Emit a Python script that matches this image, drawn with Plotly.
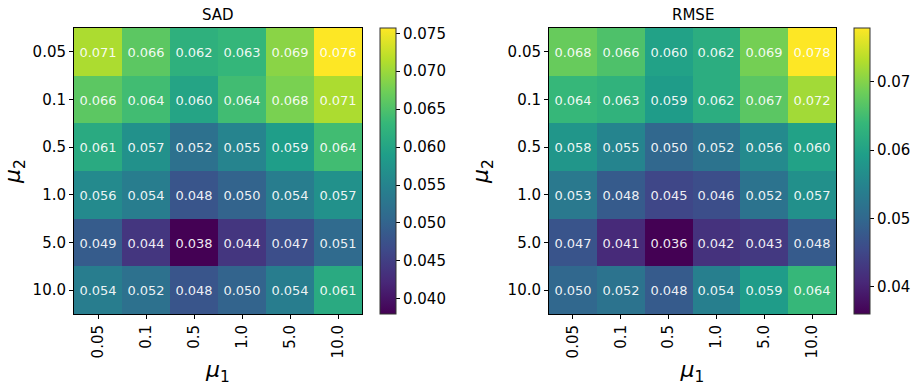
import plotly.graph_objects as go

mu1_labels = ["0.05", "0.1", "0.5", "1.0", "5.0", "10.0"]
mu2_labels = ["0.05", "0.1", "0.5", "1.0", "5.0", "10.0"]

sad = [
    [0.071, 0.066, 0.062, 0.063, 0.069, 0.076],
    [0.066, 0.064, 0.060, 0.064, 0.068, 0.071],
    [0.061, 0.057, 0.052, 0.055, 0.059, 0.064],
    [0.056, 0.054, 0.048, 0.050, 0.054, 0.057],
    [0.049, 0.044, 0.038, 0.044, 0.047, 0.051],
    [0.054, 0.052, 0.048, 0.050, 0.054, 0.061],
]
rmse = [
    [0.068, 0.066, 0.060, 0.062, 0.069, 0.078],
    [0.064, 0.063, 0.059, 0.062, 0.067, 0.072],
    [0.058, 0.055, 0.050, 0.052, 0.056, 0.060],
    [0.053, 0.048, 0.045, 0.046, 0.052, 0.057],
    [0.047, 0.041, 0.036, 0.042, 0.043, 0.048],
    [0.050, 0.052, 0.048, 0.054, 0.059, 0.064],
]

sad_ticks = [0.040, 0.045, 0.050, 0.055, 0.060, 0.065, 0.070, 0.075]
rmse_ticks = [0.04, 0.05, 0.06, 0.07]

W, H = 917, 387
FONT = "DejaVu Sans"

def px_x(p):
    return p / W

def px_y(p):
    return 1 - p / H

y_bot, y_top = px_y(314), px_y(28)
cb_len = y_top - y_bot
cb_mid = (y_top + y_bot) / 2

fig = go.Figure()

panels = [
    dict(z=sad, title="SAD", x0=74, x1=362, cbx=380, ticks=sad_ticks, fmt=".3f",
         zmin=0.038, zmax=0.0757, xa="x", ya="y"),
    dict(z=rmse, title="RMSE", x0=549, x1=836, cbx=854, ticks=rmse_ticks, fmt=".2f",
         zmin=0.036, zmax=0.0779, xa="x2", ya="y2"),
]

for p in panels:
    fig.add_trace(go.Heatmap(
        z=p["z"], x=mu1_labels, y=mu2_labels,
        colorscale="Viridis", zmin=p["zmin"], zmax=p["zmax"],
        xaxis=p["xa"], yaxis=p["ya"],
        texttemplate="%{z:.3f}",
        textfont=dict(family=FONT, size=13, color="rgba(255,255,255,0.93)"),
        xgap=0, ygap=0, hoverinfo="skip",
        colorbar=dict(
            x=px_x(p["cbx"]), xanchor="left", xref="paper",
            y=cb_mid, yanchor="middle", len=cb_len, lenmode="fraction",
            thickness=16, thicknessmode="pixels",
            outlinecolor="#333333", outlinewidth=1,
            tickvals=p["ticks"], tickformat=p["fmt"],
            ticks="outside", ticklen=4, tickcolor="black",
            tickfont=dict(family=FONT, size=15, color="black"),
            xpad=0, ypad=0,
        ),
    ))

axis_common = dict(
    type="category", showline=True, mirror=True, linecolor="black", linewidth=1,
    ticks="outside", ticklen=4, tickcolor="black", showgrid=False, zeroline=False,
    tickfont=dict(family=FONT, size=15, color="black"),
)

layout = dict(
    width=W, height=H, margin=dict(l=0, r=0, t=0, b=0),
    paper_bgcolor="white", plot_bgcolor="white", showlegend=False,
)
for i, p in enumerate(panels):
    sfx = "" if i == 0 else "2"
    layout["xaxis" + sfx] = dict(
        axis_common, domain=[px_x(p["x0"]), px_x(p["x1"])], anchor="y" + sfx,
        tickangle=-90,
        title=dict(text="<i>μ</i><sub>1</sub>", font=dict(family=FONT, size=22, color="black"),
                   standoff=4),
    )
    layout["yaxis" + sfx] = dict(
        axis_common, domain=[y_bot, y_top], anchor="x" + sfx, autorange="reversed",
        title=dict(text="<i>μ</i><sub>2</sub>", font=dict(family=FONT, size=22, color="black"),
                   standoff=12),
    )

fig.update_layout(**layout)

for p in panels:
    fig.add_annotation(
        text=p["title"], x=(px_x(p["x0"]) + px_x(p["x1"])) / 2, y=px_y(15),
        xref="paper", yref="paper", showarrow=False, xanchor="center", yanchor="middle",
        font=dict(family=FONT, size=15, color="black"),
    )

fig.write_html("out.html")
